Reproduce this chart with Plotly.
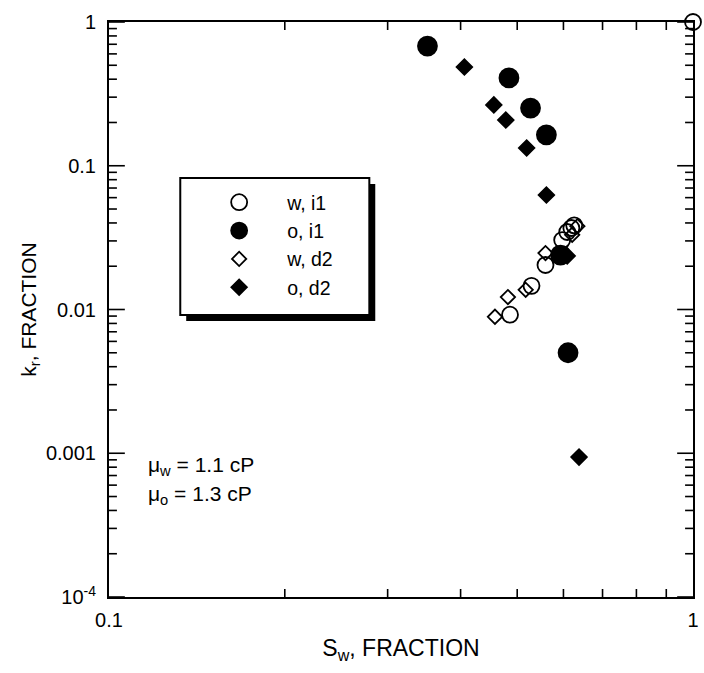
import plotly.graph_objects as go

# Relative permeability vs water saturation (log-log)
sw_w_i1 = [0.486, 0.529, 0.559, 0.597, 0.609, 0.619, 0.626, 1.0]
kr_w_i1 = [0.0092, 0.0146, 0.0204, 0.0304, 0.0346, 0.0369, 0.0385, 1.0]

sw_o_i1 = [0.351, 0.484, 0.527, 0.561, 0.593, 0.611]
kr_o_i1 = [0.68, 0.408, 0.252, 0.164, 0.0239, 0.0050]

sw_w_d2 = [0.458, 0.482, 0.517, 0.559, 0.621, 0.634]
kr_w_d2 = [0.0089, 0.0122, 0.0137, 0.0247, 0.0331, 0.0380]

sw_o_d2 = [0.406, 0.456, 0.478, 0.519, 0.561, 0.609, 0.638]
kr_o_d2 = [0.486, 0.265, 0.208, 0.133, 0.0626, 0.0236, 0.00094]

y_tickvals = [1, 0.1, 0.01, 0.001, 0.0001]
y_ticktext = ["1", "0.1", "0.01", "0.001", "10<sup>-4</sup>"]
x_tickvals = [0.1, 1]
x_ticktext = ["0.1", "1"]
x_minor = [0.2, 0.3, 0.4, 0.5, 0.6, 0.7, 0.8, 0.9]
y_minor = [m * 10 ** e for e in range(-4, 0) for m in range(2, 10)]

FONT = "Liberation Sans, Arial, Helvetica, sans-serif"
W, H = 704, 673
L, R, T, B = 109, 5, 22, 76
PW, PH = W - L - R, H - T - B
MAJOR, MINOR = 16, 8


def px(xpix):
    return (xpix - L) / PW


def py(ypix):
    return 1 - (ypix - T) / PH


fig = go.Figure()

series = [
    ("w, i1", sw_w_i1, kr_w_i1, "circle-open", 16),
    ("o, i1", sw_o_i1, kr_o_i1, "circle", 19),
    ("w, d2", sw_w_d2, kr_w_d2, "diamond-open", 11),
    ("o, d2", sw_o_d2, kr_o_d2, "diamond", 12),
]
for name, xs, ys, sym, size in series:
    fig.add_trace(go.Scatter(
        x=xs, y=ys, mode="markers", name=name, legendgroup=name,
        cliponaxis=False,
        marker=dict(symbol=sym, size=size, color="black",
                    line=dict(color="black", width=1.8)),
    ))

# inward tick marks on all four sides
tick_line = dict(color="black", width=1.6)
for vals, ln in [(y_tickvals, MAJOR), (y_minor, MINOR)]:
    for v in vals:
        fig.add_shape(type="line", xref="paper", yref="y", x0=0, x1=ln / PW,
                      y0=v, y1=v, line=tick_line)
        fig.add_shape(type="line", xref="paper", yref="y", x0=1, x1=1 - ln / PW,
                      y0=v, y1=v, line=tick_line)
for v in x_minor:
    fig.add_shape(type="line", xref="x", yref="paper", x0=v, x1=v,
                  y0=0, y1=MINOR / PH, line=tick_line)
    fig.add_shape(type="line", xref="x", yref="paper", x0=v, x1=v,
                  y0=1, y1=1 - MINOR / PH, line=tick_line)

# legend frame with drop shadow
bx0, bx1, by0, by1 = 181, 372, 178, 315
sh = 6
fig.add_shape(type="rect", xref="paper", yref="paper", layer="above",
              x0=px(bx0 + sh), x1=px(bx1 + sh), y0=py(by1 + sh), y1=py(by0 + sh),
              fillcolor="black", line=dict(width=0))
fig.add_shape(type="rect", xref="paper", yref="paper", layer="above",
              x0=px(bx0), x1=px(bx1), y0=py(by1), y1=py(by0),
              fillcolor="white", line=dict(color="black", width=2))

axis_common = dict(
    type="log", showgrid=False, zeroline=False,
    showline=True, linecolor="black", linewidth=2, mirror=True,
    ticks="",
    tickfont=dict(family=FONT, size=20, color="black"),
)

fig.update_xaxes(
    **axis_common, range=[-1, 0], tickvals=x_tickvals, ticktext=x_ticktext,
    ticklabelstandoff=4,
    title=dict(text="S<sub>w</sub>, FRACTION", font=dict(family=FONT, size=23, color="black"),
               standoff=10),
)
fig.update_yaxes(
    **axis_common, range=[-4, 0], tickvals=y_tickvals, ticktext=y_ticktext,
    ticklabelstandoff=7,
    title=dict(text="k<sub>r</sub>, FRACTION", font=dict(family=FONT, size=21, color="black"),
               standoff=4),
)

for text, ypix in [("μ<sub>w</sub> = 1.1 cP", 466), ("μ<sub>o</sub> = 1.3 cP", 495)]:
    fig.add_annotation(text=text, xref="paper", yref="paper", x=px(146), y=py(ypix),
                       xanchor="left", yanchor="middle", showarrow=False,
                       font=dict(family=FONT, size=21, color="black"))

fig.update_layout(
    width=W, height=H,
    margin=dict(l=L, r=R, t=T, b=B),
    paper_bgcolor="white", plot_bgcolor="white",
    font=dict(family=FONT, size=20, color="black"),
    showlegend=True,
    legend=dict(
        x=px(192), y=py(183), xanchor="left", yanchor="top",
        bgcolor="rgba(0,0,0,0)", borderwidth=0,
        traceorder="grouped", tracegroupgap=0, itemwidth=86,
        font=dict(family=FONT, size=19.5, color="black"),
    ),
)

fig.write_html("out.html")
